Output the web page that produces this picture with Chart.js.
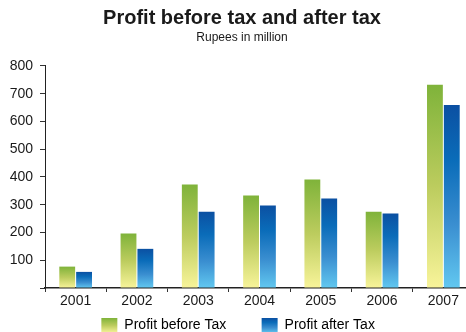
<!DOCTYPE html>
<html>
<head>
<meta charset="utf-8">
<script src="https://cdn.jsdelivr.net/npm/chart.js@4/dist/chart.umd.min.js"></script>
<style>
  html, body { margin: 0; padding: 0; background: #fff; overflow: hidden; }
  #wrap { position: relative; width: 466px; height: 332px; overflow: hidden; }
  #c { position: absolute; left: 0; top: 0; }
</style>
</head>
<body>
<div id="wrap"><canvas id="c" width="480" height="343"></canvas></div>
<script>
const years = ['2001', '2002', '2003', '2004', '2005', '2006', '2007'];
const profitBeforeTax = [77, 196, 373, 333, 391, 275, 732];
const profitAfterTax = [58, 141, 275, 297, 322, 268, 659];
const yTickValues = [100, 200, 300, 400, 500, 600, 700, 800];
const seriesNames = ['Profit before Tax', 'Profit after Tax'];

const greenStops = [[0, '#7fb33a'], [0.5, '#bccc5e'], [1, '#f8f49a']];
const blueStops = [[0, '#0b50a2'], [0.3, '#0a6cb9'], [0.65, '#3a8ed0'], [1, '#62c8f0']];

function makeGrad(c2d, y0, y1, stops) {
  const g = c2d.createLinearGradient(0, y0, 0, y1);
  stops.forEach(s => g.addColorStop(s[0], s[1]));
  return g;
}

function barFill(stops) {
  return function (ctx) {
    const chart = ctx.chart;
    if (!chart.chartArea || ctx.type !== 'data' || !ctx.parsed) return stops[0][1];
    const y = chart.scales.y;
    const top = y.getPixelForValue(ctx.parsed.y);
    const base = y.getPixelForValue(0);
    return makeGrad(chart.ctx, top, base, stops);
  };
}

const legendGradPlugin = {
  id: 'legendGrad',
  beforeDraw(chart) {
    const lg = chart.legend;
    if (!lg || !lg.legendHitBoxes || !lg.legendItems) return;
    const all = [greenStops, blueStops];
    lg.legendItems.forEach((item, i) => {
      const hb = lg.legendHitBoxes[i];
      if (!hb) return;
      item.fillStyle = makeGrad(chart.ctx, hb.top, hb.top + 15, all[item.datasetIndex]);
      item.strokeStyle = 'rgba(0,0,0,0)';
      item.lineWidth = 0;
    });
  }
};

const FONT = "'Liberation Sans', Arial, sans-serif";

new Chart(document.getElementById('c'), {
  type: 'bar',
  data: {
    labels: years,
    datasets: [
      { label: seriesNames[0], data: profitBeforeTax, backgroundColor: barFill(greenStops), borderWidth: 0 },
      { label: seriesNames[1], data: profitAfterTax, backgroundColor: barFill(blueStops), borderWidth: 0 }
    ]
  },
  options: {
    responsive: false,
    animation: false,
    devicePixelRatio: 1,
    categoryPercentage: 0.55,
    barPercentage: 0.94,
    layout: { padding: { left: 10, right: 6, top: 0, bottom: 0 } },
    plugins: {
      tooltip: { enabled: false },
      title: {
        display: true,
        text: 'Profit before tax and after tax',
        color: '#1a1a1a',
        font: { family: FONT, size: 20, weight: 'bold', lineHeight: 1.2 },
        padding: { top: 6, bottom: 0 }
      },
      subtitle: {
        display: true,
        text: 'Rupees in million',
        color: '#1a1a1a',
        font: { family: FONT, size: 12, lineHeight: 1.2 },
        padding: { top: 0, bottom: 21.5 }
      },
      legend: {
        position: 'bottom',
        labels: {
          boxWidth: 16,
          boxHeight: 15,
          padding: 12,
          color: '#1a1a1a',
          font: { family: FONT, size: 14 },
          generateLabels(chart) {
            return chart.data.datasets.map((ds, i) => ({
              text: i === 0 ? ds.label + '      ' : ds.label + '  ',
              fillStyle: i === 0 ? greenStops[0][1] : blueStops[0][1],
              strokeStyle: 'rgba(0,0,0,0)',
              lineWidth: 0,
              hidden: false,
              datasetIndex: i
            }));
          }
        }
      }
    },
    scales: {
      x: {
        offset: true,
        grid: { drawOnChartArea: false, drawTicks: true, tickLength: 4, color: '#333', offset: true },
        border: { display: true, color: '#222', width: 1.5 },
        ticks: { color: '#1a1a1a', padding: 2, font: { family: FONT, size: 14, lineHeight: 1 }, maxRotation: 0 },
        afterFit(scale) { scale.height = 18; }
      },
      y: {
        min: 0,
        max: 800,
        afterBuildTicks(scale) {
          scale.ticks = [{ value: 0 }].concat(yTickValues.map(v => ({ value: v })));
        },
        afterFit(scale) { scale.width = 35; },
        grid: { drawOnChartArea: false, drawTicks: true, tickLength: 5, color: '#333' },
        border: { display: true, color: '#222', width: 1 },
        ticks: {
          color: '#1a1a1a',
          padding: 7,
          font: { family: FONT, size: 14 },
          callback: (v) => (v === 0 ? '' : String(v))
        }
      }
    }
  },
  plugins: [legendGradPlugin]
});
</script>
</body>
</html>
